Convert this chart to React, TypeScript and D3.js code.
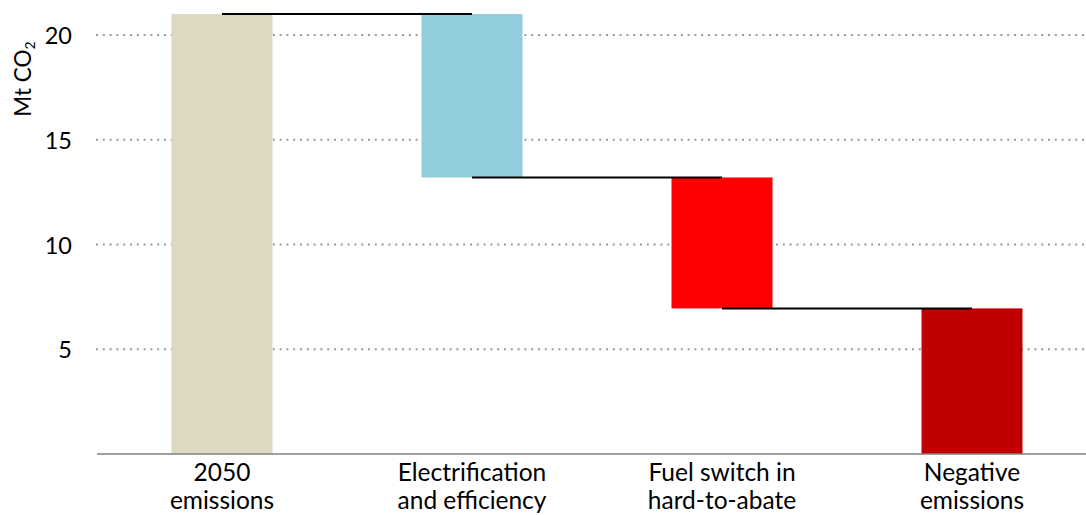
import React from "react";
import * as d3 from "d3";

const categories = ["2050 emissions", "Electrification and efficiency", "Fuel switch in hard-to-abate", "Negative emissions"];
const labelLines = [["2050", "emissions"], ["Electrification", "and efficiency"], ["Fuel switch in", "hard-to-abate"], ["Negative", "emissions"]];
const values = [21.0, -7.8, -6.25, -6.95];
const colors = ["#DDD8C2", "#92CDDC", "#FF0000", "#C00000"];
const yTicks = [5, 10, 15, 20];

const W = 1086, H = 515;
const FONT = "Lato, 'Open Sans', sans-serif";

export default function App() {
  const x = d3.scaleBand<string>().domain(categories).range([97, 1097]).paddingInner(0.596).paddingOuter(0.298);
  const y = d3.scaleLinear().domain([0, 20]).range([454, 35]);

  let run = 0;
  const segs = values.map((v, i) => {
    const start = i === 0 ? 0 : run;
    const end = i === 0 ? v : run + v;
    run = end;
    return { cat: categories[i], lo: Math.min(start, end), hi: Math.max(start, end), end, color: colors[i] };
  });

  return (
    <svg width={W} height={H} style={{ position: "absolute", left: 0, top: 0 }} fontFamily={FONT}>
      {yTicks.map((t) => (
        <g key={t}>
          <line x1={96} x2={W} y1={y(t)} y2={y(t)} stroke="#9a9a9a" strokeWidth={2} strokeDasharray="2 4.8" />
          <text x={72} y={y(t)} textAnchor="end" dominantBaseline="central" fontSize={23.5} fill="#000">{t}</text>
        </g>
      ))}
      {segs.map((s) => (
        <rect key={s.cat} x={x(s.cat)} width={x.bandwidth()} y={y(s.hi)} height={y(s.lo) - y(s.hi)} fill={s.color} />
      ))}
      {segs.slice(0, -1).map((s, i) => {
        const c1 = (x(s.cat) as number) + x.bandwidth() / 2;
        const c2 = (x(categories[i + 1]) as number) + x.bandwidth() / 2;
        return <line key={"c" + i} x1={c1} x2={c2} y1={y(s.end)} y2={y(s.end)} stroke="#000" strokeWidth={2} />;
      })}
      <line x1={97} x2={W} y1={y(0)} y2={y(0)} stroke="#808080" strokeWidth={1.5} />
      {categories.map((c, i) => {
        const cx = (x(c) as number) + x.bandwidth() / 2;
        return (
          <text key={c} x={cx} textAnchor="middle" fontSize={24.5} fill="#000">
            {labelLines[i].map((l, j) => (
              <tspan key={j} x={cx} y={481 + j * 28}>{l}</tspan>
            ))}
          </text>
        );
      })}
      <text transform="translate(31,79) rotate(-90)" textAnchor="middle" fontSize={22.5} fill="#000">
        Mt CO<tspan fontSize={14} dy={4}>2</tspan>
      </text>
    </svg>
  );
}
